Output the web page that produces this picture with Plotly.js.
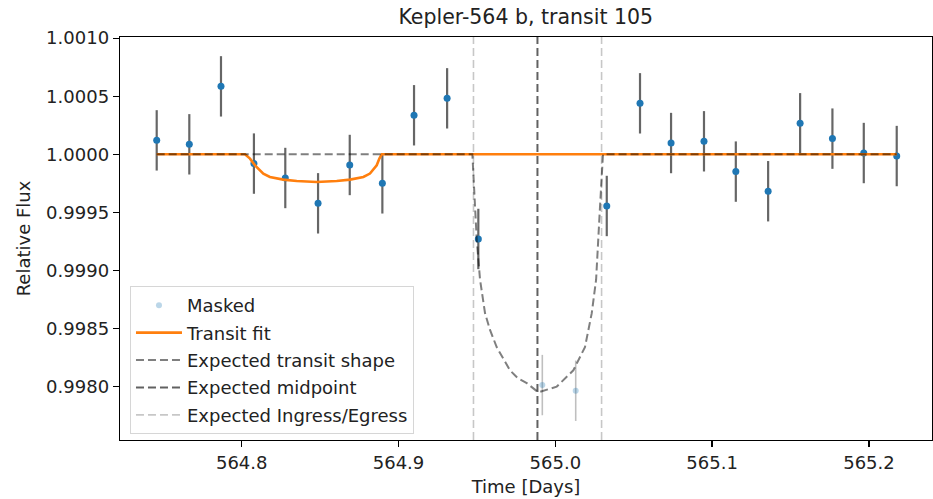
<!DOCTYPE html>
<html><head><meta charset="utf-8">
<script src="https://cdn.plot.ly/plotly-3.0.1.min.js"></script>
<style>html,body{margin:0;padding:0;background:#fff}</style>
</head><body><div id="chart" style="width:933px;height:499px"></div>
<script>
// Observed (unmasked) data
const timeDays = [564.7458, 564.7666, 564.7868, 564.8078, 564.8278, 564.8487, 564.8689, 564.8897, 564.9099, 564.9310, 564.9509,
                  565.0328, 565.0540, 565.0738, 565.0948, 565.1151, 565.1357, 565.1561, 565.1767, 565.1967, 565.2177];
const relFlux = [1.000120, 1.000086, 1.000585, 0.999920, 0.999796, 0.999578, 0.999908, 0.999750, 1.000336, 1.000482, 0.999271,
                 0.999555, 1.000439, 1.000097, 1.000112, 0.999851, 0.999682, 1.000267, 1.000135, 1.000011, 0.999985];
const fluxErr = [0.00026, 0.00026, 0.00026, 0.00026, 0.00026, 0.00026, 0.00026, 0.00026, 0.00026, 0.00026, 0.00026,
                 0.00026, 0.00026, 0.00026, 0.00026, 0.00026, 0.00026, 0.00026, 0.00026, 0.00026, 0.00026];
// Masked points
const maskedTime = [564.9917, 565.0130];
const maskedFlux = [0.998013, 0.997964];
const maskedErr = [0.00026, 0.00026];
// Transit fit
const fitTime = [564.7458, 564.8021, 564.8053, 564.8085, 564.8138, 564.8180, 564.8265, 564.8351, 564.8478, 564.8606, 564.8691, 564.8776, 564.8818, 564.8861, 564.8878, 564.8893, 565.2177];
const fitFlux = [1.0, 1.0, 0.999963, 0.999905, 0.999834, 0.999805, 0.999782, 0.999770, 0.999762, 0.999770, 0.999782, 0.999805, 0.999834, 0.999905, 0.999963, 1.0, 1.0];
// Expected transit shape
const shapeTime = [564.7458, 564.9471, 564.9499, 564.9520, 564.9552, 564.9583, 564.9626, 564.9711, 564.9762, 564.9818, 564.9892,
                   565.0009, 565.0115, 565.0189, 565.0232, 565.0260, 565.0285, 565.0304, 565.2177];
const shapeFlux = [1.0, 1.0, 0.99926, 0.99892, 0.99863, 0.99849, 0.99834, 0.99814, 0.99807, 0.99803, 0.99795,
                   0.99800, 0.99814, 0.99834, 0.99863, 0.99892, 0.99955, 1.0, 1.0];
// Expected timings
const midpointTime = 564.9886;
const ingressTime = 564.9478;
const egressTime = 565.0295;
// Axis
const yRange = [0.99754, 1.00101];
const xRange = [564.7224, 565.2402];
const yTicks = [0.9980, 0.9985, 0.9990, 0.9995, 1.0000, 1.0005, 1.0010];
const xTicks = [564.8, 564.9, 565.0, 565.1, 565.2];

const FONT = 'DejaVu Sans, sans-serif';
const dash = '8px,4px';

const traces = [
  {x: timeDays, y: relFlux, type: 'scatter', mode: 'markers', showlegend: false,
   marker: {color: '#1f77b4', size: 7},
   error_y: {type: 'data', array: fluxErr, visible: true, color: 'rgba(0,0,0,0.6)', thickness: 2.2, width: 0}},
  {x: maskedTime, y: maskedFlux, type: 'scatter', mode: 'markers', name: 'Masked', legendgroup: 'a',
   marker: {color: 'rgba(31,119,180,0.3)', size: 6},
   error_y: {type: 'data', array: maskedErr, visible: true, color: 'rgba(0,0,0,0.25)', thickness: 1.6, width: 0}},
  {x: fitTime, y: fitFlux, type: 'scatter', mode: 'lines', name: 'Transit fit', legendgroup: 'b',
   line: {color: '#ff7f0e', width: 2.6}},
  {x: shapeTime, y: shapeFlux, type: 'scatter', mode: 'lines', name: 'Expected transit shape', legendgroup: 'c',
   line: {color: 'rgba(0,0,0,0.5)', width: 2, dash: dash}},
  {x: [midpointTime, midpointTime], y: yRange, type: 'scatter', mode: 'lines', name: 'Expected midpoint', legendgroup: 'd',
   line: {color: 'rgba(0,0,0,0.62)', width: 2, dash: dash}},
  {x: [ingressTime, ingressTime, null, egressTime, egressTime], y: [yRange[0], yRange[1], null, yRange[0], yRange[1]],
   type: 'scatter', mode: 'lines', name: 'Expected Ingress/Egress', legendgroup: 'e',
   line: {color: 'rgba(0,0,0,0.22)', width: 1.6, dash: dash}}
];

const axisCommon = {
  showline: true, linecolor: '#000', linewidth: 1.3, mirror: true,
  ticks: 'outside', ticklen: 6, tickwidth: 1.3, tickcolor: '#000',
  showgrid: false, zeroline: false,
  tickfont: {family: FONT, size: 18, color: '#222'}
};

const layout = {
  width: 933, height: 499,
  margin: {l: 120, r: 1, t: 37, b: 59},
  paper_bgcolor: '#fff', plot_bgcolor: '#fff',
  font: {family: FONT, color: '#222'},
  title: {text: 'Kepler-564 b, transit 105', font: {family: FONT, size: 20.5, color: '#222'},
          x: 0.5635, xanchor: 'center', y: 0.966, yanchor: 'middle', yref: 'container'},
  xaxis: Object.assign({}, axisCommon, {
    range: xRange, tickvals: xTicks, ticktext: xTicks.map(v => v.toFixed(1)),
    title: {text: 'Time [Days]', font: {family: FONT, size: 18, color: '#222'}, standoff: 8}
  }),
  yaxis: Object.assign({}, axisCommon, {
    range: yRange, tickvals: yTicks, ticktext: yTicks.map(v => v.toFixed(4)),
    title: {text: 'Relative Flux', font: {family: FONT, size: 18, color: '#222'}, standoff: 10}
  }),
  legend: {
    x: 0.0123, y: 0.382, xanchor: 'left', yanchor: 'top',
    bgcolor: 'rgba(255,255,255,0.8)', bordercolor: '#d6d6d6', borderwidth: 1,
    font: {family: FONT, size: 18, color: '#222'},
    traceorder: 'grouped', tracegroupgap: 1, itemwidth: 46
  },
  showlegend: true
};

Plotly.newPlot('chart', traces, layout, {displayModeBar: false, staticPlot: true});
</script></body></html>
